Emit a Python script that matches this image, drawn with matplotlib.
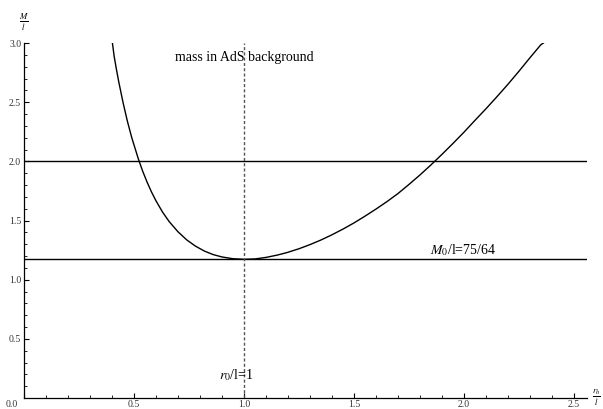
import numpy as np
import matplotlib
matplotlib.use('Agg')
import matplotlib.pyplot as plt
import matplotlib.transforms as mtransforms
from matplotlib.ticker import MultipleLocator

plt.rcParams['font.family'] = ['Liberation Serif', 'DejaVu Serif']
plt.rcParams['mathtext.fontset'] = 'stix'

# точки кривой
r_h = [0.402, 0.41, 0.42, 0.43, 0.44, 0.45, 0.46, 0.47, 0.48, 0.49,
       0.50, 0.52, 0.54, 0.56, 0.58, 0.60, 0.63, 0.66, 0.70, 0.74,
       0.78, 0.82, 0.86, 0.90, 0.95, 1.0, 1.05, 1.1, 1.15, 1.194,
       1.25, 1.3, 1.35, 1.4, 1.45, 1.5, 1.55, 1.6, 1.65, 1.7,
       1.75, 1.8, 1.85, 1.9, 1.95, 2.0, 2.05, 2.1, 2.15, 2.2,
       2.25, 2.3, 2.35, 2.362]
mass = [3.0, 2.887, 2.78, 2.68, 2.59, 2.50, 2.42, 2.34, 2.27, 2.20,
        2.14, 2.02, 1.915, 1.823, 1.74, 1.667, 1.571, 1.491, 1.405, 1.336,
        1.283, 1.242, 1.212, 1.192, 1.177, 1.172, 1.175, 1.188, 1.207, 1.228,
        1.261, 1.296, 1.335, 1.379, 1.427, 1.479, 1.536, 1.596, 1.659, 1.727,
        1.804, 1.884, 1.969, 2.058, 2.150, 2.245, 2.345, 2.443, 2.545, 2.65,
        2.76, 2.874, 2.985, 3.0]

m_levels = [2.0, 75 / 64]
r0 = 1.0
x_ticks = [0.0, 0.5, 1.0, 1.5, 2.0, 2.5]
y_ticks = [0.5, 1.0, 1.5, 2.0, 2.5, 3.0]

fig = plt.figure(figsize=(6.03, 4.09), dpi=100)
ax = fig.add_axes([24 / 603, 11 / 409, 563 / 603, 355 / 409])

ax.plot(r_h, mass, color='black', lw=1.0)
for m in m_levels:
    ax.plot([0, 2.56], [m, m], color='black', lw=1.0)
ax.plot([r0, r0], [0, 3.0], color='#555555', lw=1.0, ls=(0, (2.2, 1.6)))

ax.set_xlim(0, 2.56)
ax.set_ylim(0, 3.0)

for s in ['top', 'right']:
    ax.spines[s].set_visible(False)
for s in ['left', 'bottom']:
    ax.spines[s].set_linewidth(0.9)

ax.set_xticks(x_ticks)
ax.set_xticklabels([f'{v:.1f}' for v in x_ticks])
ax.set_yticks(y_ticks)
ax.set_yticklabels([f'{v:.1f}' for v in y_ticks])
ax.xaxis.set_minor_locator(MultipleLocator(0.1))
ax.yaxis.set_minor_locator(MultipleLocator(0.1))
ax.tick_params(which='major', direction='in', length=3.5, width=0.8,
               labelsize=7, labelcolor='#333333')
ax.tick_params(which='minor', direction='in', length=2, width=0.6)
ax.tick_params(axis='x', pad=1.5)
ax.tick_params(axis='y', pad=2)

# подпись 0.0 смещена влево, как в оригинале
lbl0 = ax.get_xticklabels()[0]
lbl0.set_transform(lbl0.get_transform() +
                   mtransforms.ScaledTranslation(-12 / 100, 0, fig.dpi_scale_trans))

ax.text(1.0, 2.88, 'mass in AdS background', ha='center', va='center', fontsize=10)
ax.text(1.845, 1.182, r'$M_0$/l=75/64', ha='left', va='bottom', fontsize=10)
ax.text(0.885, 0.13, r'$r_0$/l=1', ha='left', va='bottom', fontsize=10)

ax.text(0.0, 3.17, r'$\frac{M}{l}$', ha='center', va='center', fontsize=9,
        clip_on=False)
ax.text(2.605, 0.0, r'$\frac{r_h}{l}$', ha='center', va='center', fontsize=9,
        clip_on=False)

fig.savefig('out.png', dpi=100)
